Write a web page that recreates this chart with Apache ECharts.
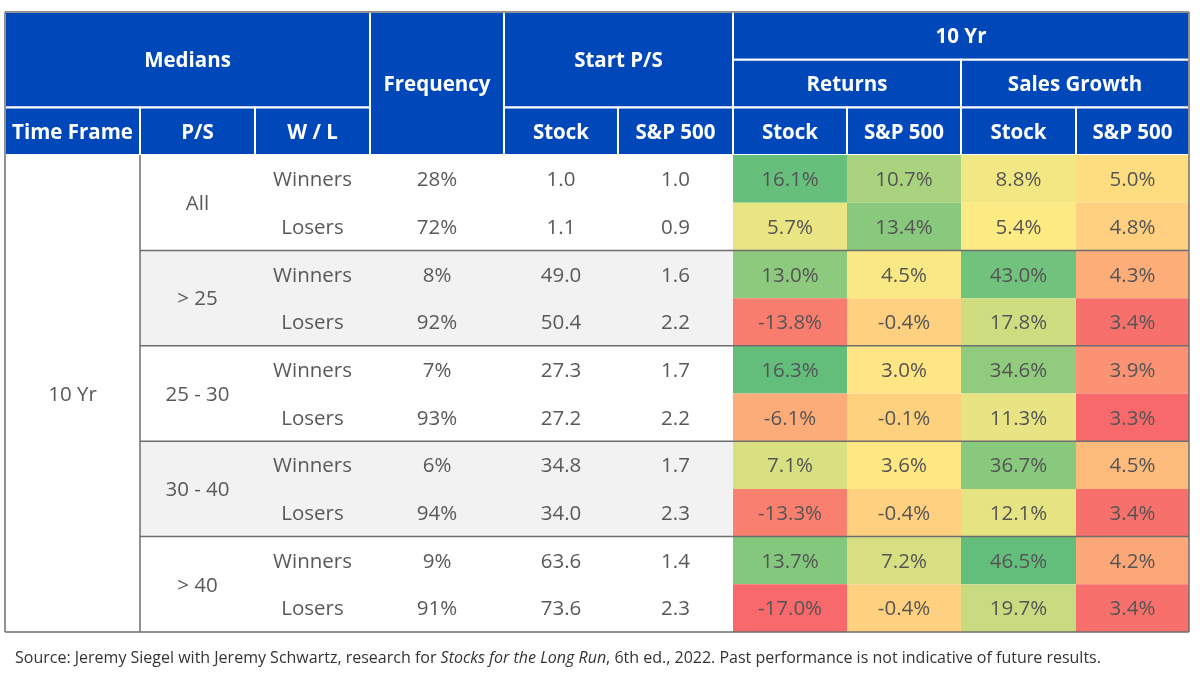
<!DOCTYPE html>
<html>
<head>
<meta charset="utf-8">
<script src="https://cdn.jsdelivr.net/npm/echarts@6/dist/echarts.min.js"></script>
<style>html,body{margin:0;padding:0;background:#fff}#main{width:1200px;height:674px}</style>
</head>
<body>
<div id="main"></div>
<script>
// ---------- data ----------
const headerMedians = 'Medians';
const headerFrequency = 'Frequency';
const headerStart = 'Start P/S';
const headerTen = '10 Yr';
const headerReturns = 'Returns';
const headerSales = 'Sales Growth';
const headerSub = ['Time Frame', 'P/S', 'W / L'];
const headerPair = ['Stock', 'S&P 500'];
const timeFrame = '10 Yr';
const psGroups = ['All', '> 25', '25 - 30', '30 - 40', '> 40'];
const wl = ['Winners', 'Losers'];
const frequency = [28, 72, 8, 92, 7, 93, 6, 94, 9, 91];
const startStock = [1.0, 1.1, 49.0, 50.4, 27.3, 27.2, 34.8, 34.0, 63.6, 73.6];
const startSP = [1.0, 0.9, 1.6, 2.2, 1.7, 2.2, 1.7, 2.3, 1.4, 2.3];
const retStock = [16.1, 5.7, 13.0, -13.8, 16.3, -6.1, 7.1, -13.3, 13.7, -17.0];
const retSP = [10.7, 13.4, 4.5, -0.4, 3.0, -0.1, 3.6, -0.4, 7.2, -0.4];
const salesStock = [8.8, 5.4, 43.0, 17.8, 34.6, 11.3, 36.7, 12.1, 46.5, 19.7];
const salesSP = [5.0, 4.8, 4.3, 3.4, 3.9, 3.3, 4.5, 3.4, 4.2, 3.4];
const sourceText = ['Source: Jeremy Siegel with Jeremy Schwartz, research for ', 'Stocks for the Long Run', ', 6th ed., 2022. Past performance is not indicative of future results.'];

// ---------- layout / style ----------
const colW = [135, 115, 115, 134, 114, 115, 114, 114, 115, 113];
const colEdge = [0];
colW.forEach(w => colEdge.push(colEdge[colEdge.length - 1] + w));
const totalW = colEdge[colEdge.length - 1];
const HEAD_ROWS = 3;
const totalRows = HEAD_ROWS + retStock.length;
const BLUE = '#0047ba';
const FONT = 'Open Sans';
const FS = 20.5;
const RED = [248, 105, 107], YEL = [255, 235, 132], GRN = [99, 190, 123];

function pct50(arr) {
  const s = arr.slice().sort((a, b) => a - b);
  const p = (s.length - 1) * 0.5, lo = Math.floor(p), hi = Math.ceil(p);
  return s[lo] + (s[hi] - s[lo]) * (p - lo);
}
function mix(a, b, t) {
  return 'rgb(' + a.map((v, i) => Math.round(v + (b[i] - v) * t)).join(',') + ')';
}
function scale(vals) {
  const mn = Math.min(...vals), mx = Math.max(...vals), md = pct50(vals);
  return v => v <= md ? mix(RED, YEL, (v - mn) / (md - mn)) : mix(YEL, GRN, (v - md) / (mx - md));
}
const retColor = scale(retStock.concat(retSP));
const salesColor = scale(salesStock.concat(salesSP));

// ---------- cells ----------
const cells = [];
function head(c0, c1, r0, r1, text) {
  cells.push({ v: [c0, c1, r0, r1], fill: BLUE, stroke: '#ffffff', text, color: '#ffffff', bold: true });
}
head(0, 3, 0, 2, headerMedians);
head(3, 4, 0, 3, headerFrequency);
head(4, 6, 0, 2, headerStart);
head(6, 10, 0, 1, headerTen);
head(6, 8, 1, 2, headerReturns);
head(8, 10, 1, 2, headerSales);
headerSub.forEach((t, i) => head(i, i + 1, 2, 3, t));
[4, 6, 8].forEach(c => headerPair.forEach((t, j) => head(c + j, c + j + 1, 2, 3, t)));

const BODY = '#595959';
cells.push({ v: [0, 1, HEAD_ROWS, totalRows], fill: '#ffffff', text: timeFrame, color: BODY });
psGroups.forEach((g, gi) => {
  const r0 = HEAD_ROWS + gi * 2;
  const bg = gi % 2 === 1 ? '#f2f2f2' : '#ffffff';
  cells.push({ v: [1, 6, r0, r0 + 2], fill: bg, text: '', color: BODY });
  cells.push({ v: [1, 2, r0, r0 + 2], fill: null, text: g, color: BODY });
});
frequency.forEach((f, i) => {
  const r = HEAD_ROWS + i;
  cells.push({ v: [2, 3, r, r + 1], text: wl[i % 2], color: BODY });
  cells.push({ v: [3, 4, r, r + 1], text: f + '%', color: BODY });
  cells.push({ v: [4, 5, r, r + 1], text: startStock[i].toFixed(1), color: BODY });
  cells.push({ v: [5, 6, r, r + 1], text: startSP[i].toFixed(1), color: BODY });
  cells.push({ v: [6, 7, r, r + 1], fill: retColor(retStock[i]), text: retStock[i].toFixed(1) + '%', color: '#555' });
  cells.push({ v: [7, 8, r, r + 1], fill: retColor(retSP[i]), text: retSP[i].toFixed(1) + '%', color: '#555' });
  cells.push({ v: [8, 9, r, r + 1], fill: salesColor(salesStock[i]), text: salesStock[i].toFixed(1) + '%', color: '#555' });
  cells.push({ v: [9, 10, r, r + 1], fill: salesColor(salesSP[i]), text: salesSP[i].toFixed(1) + '%', color: '#555' });
});

// ---------- rule lines ----------
const rules = [];
psGroups.forEach((g, gi) => { if (gi > 0) rules.push([1, 10, HEAD_ROWS + gi * 2, HEAD_ROWS + gi * 2]); });
rules.push([1, 1, HEAD_ROWS, totalRows]);
rules.push([0, 10, 0, 0]); rules.push([0, 10, totalRows, totalRows]);
rules.push([0, 0, 0, totalRows]); rules.push([10, 10, 0, totalRows]);

const chart = echarts.init(document.getElementById('main'), null, { renderer: 'canvas' });
chart.setOption({
  animation: false,
  backgroundColor: '#ffffff',
  title: {
    left: 10, top: 645,
    text: '{a|' + sourceText[0] + '}{i|' + sourceText[1] + '}{a|' + sourceText[2] + '}',
    textStyle: {
      fontWeight: 'normal',
      rich: {
        a: { fontFamily: FONT, fontSize: 16, color: '#333', fontWeight: 'normal' },
        i: { fontFamily: FONT, fontSize: 16, color: '#333', fontStyle: 'italic', fontWeight: 'normal' }
      }
    }
  },
  grid: { left: 5, right: 11, top: 12, bottom: 42 },
  xAxis: { type: 'value', min: 0, max: totalW, show: false },
  yAxis: { type: 'value', min: 0, max: totalRows, inverse: true, show: false },
  series: [
    {
      type: 'custom',
      coordinateSystem: 'cartesian2d',
      data: cells.map(c => c.v),
      encode: { x: [0, 1], y: [2, 3] },
      renderItem: function (params, api) {
        const c = cells[params.dataIndex];
        const p0 = api.coord([colEdge[api.value(0)], api.value(2)]);
        const p1 = api.coord([colEdge[api.value(1)], api.value(3)]);
        const children = [];
        if (c.fill) {
          children.push({
            type: 'rect',
            shape: { x: p0[0], y: p0[1], width: p1[0] - p0[0], height: p1[1] - p0[1] },
            style: { fill: c.fill, stroke: c.stroke || null, lineWidth: c.stroke ? 2 : 0 }
          });
        }
        if (c.text) {
          children.push({
            type: 'text',
            x: (p0[0] + p1[0]) / 2, y: (p0[1] + p1[1]) / 2 + 1.5,
            style: {
              text: c.text, fill: c.color, align: 'center', verticalAlign: 'middle',
              fontFamily: FONT, fontSize: FS, fontWeight: c.bold ? 'bold' : 'normal'
            }
          });
        }
        return { type: 'group', children };
      },
      silent: true
    },
    {
      type: 'custom',
      coordinateSystem: 'cartesian2d',
      data: rules,
      encode: { x: [0, 1], y: [2, 3] },
      renderItem: function (params, api) {
        const p0 = api.coord([colEdge[api.value(0)], api.value(2)]);
        const p1 = api.coord([colEdge[api.value(1)], api.value(3)]);
        return {
          type: 'line',
          shape: { x1: p0[0], y1: p0[1], x2: p1[0], y2: p1[1] },
          style: { stroke: '#6e6e6e', lineWidth: 1.5 }
        };
      },
      silent: true,
      z: 5
    }
  ]
});
</script>
</body>
</html>
